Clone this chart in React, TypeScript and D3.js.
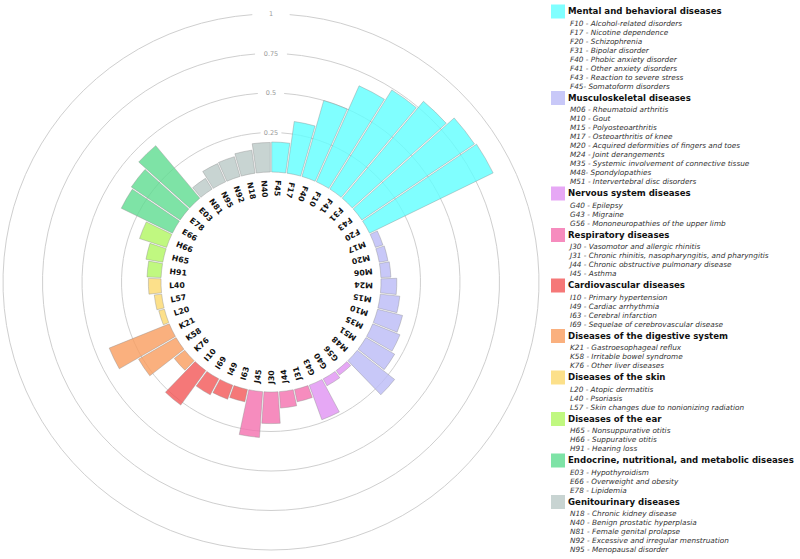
import * as React from 'react';
import * as d3 from 'd3';

// chart geometry
const WIDTH = 800;
const HEIGHT = 559;
const CX = 271;
const CY = 282;
const INNER_RADIUS = 110;
const OUTER_RADIUS = 268;

// bars, in drawing order (clockwise from the top)
const categories = [
    'F45', 'F17', 'F40', 'F10', 'F41', 'F31', 'F43', 'F20',
    'M17', 'M20', 'M06', 'M24', 'M15', 'M10', 'M35', 'M51', 'M48',
    'G56', 'G40', 'G43',
    'J31', 'J44', 'J30', 'J45',
    'I63', 'I49', 'I69', 'I10',
    'K76', 'K58', 'K21',
    'L20', 'L57', 'L40',
    'H91', 'H65', 'H66',
    'E66', 'E78', 'E03',
    'N81', 'N95', 'N92', 'N18', 'N40',
];

const values = [
    0.19, 0.33, 0.50, 0.665, 0.74, 0.80, 0.86, 0.87,
    0.05, 0.056, 0.063, 0.10, 0.124, 0.163, 0.186, 0.21, 0.30,
    0.035, 0.05, 0.233,
    0.08, 0.104, 0.20, 0.29,
    0.08, 0.095, 0.115, 0.27,
    0.084, 0.274, 0.41,
    0.037, 0.047, 0.08,
    0.089, 0.108, 0.18,
    0.36, 0.373, 0.434,
    0.08, 0.126, 0.13, 0.147, 0.187,
];

const categoryGroup = [
    0, 0, 0, 0, 0, 0, 0, 0,
    1, 1, 1, 1, 1, 1, 1, 1, 1,
    2, 2, 2,
    3, 3, 3, 3,
    4, 4, 4, 4,
    5, 5, 5,
    6, 6, 6,
    7, 7, 7,
    8, 8, 8,
    9, 9, 9, 9, 9,
];

const groupNames = [
    'Mental and behavioral diseases',
    'Musculoskeletal diseases',
    'Nervous system diseases',
    'Respiratory diseases',
    'Cardiovascular diseases',
    'Diseases of the digestive system',
    'Diseases of the skin',
    'Diseases of the ear',
    'Endocrine, nutritional, and metabolic diseases',
    'Genitourinary diseases',
];

const groupColors = [
    '#60ffff', '#babaf6', '#e092f3', '#f46fae', '#f35656',
    '#f99c5e', '#fbd86d', '#b0f660', '#5edc90', '#bac9c7',
];

const legendItems = [
    ['F10 - Alcohol-related disorders', 'F17 - Nicotine dependence', 'F20 - Schizophrenia',
        'F31 - Bipolar disorder', 'F40 - Phobic anxiety disorder', 'F41 - Other anxiety disorders',
        'F43 - Reaction to severe stress', 'F45- Somatoform disorders'],
    ['M06 - Rheumatoid arthritis', 'M10 - Gout', 'M15 - Polyosteoarthritis',
        'M17 - Osteoarthritis of knee', 'M20 - Acquired deformities of fingers and toes',
        'M24 - Joint derangements', 'M35 - Systemic involvement of connective tissue',
        'M48- Spondylopathies', 'M51 - Intervertebral disc disorders'],
    ['G40 - Epilepsy', 'G43 - Migraine', 'G56 - Mononeuropathies of the upper limb'],
    ['J30 - Vasomotor and allergic rhinitis', 'J31 - Chronic rhinitis, nasopharyngitis, and pharyngitis',
        'J44 - Chronic obstructive pulmonary disease', 'I45 - Asthma'],
    ['I10 - Primary hypertension', 'I49 - Cardiac arrhythmia', 'I63 - Cerebral infarction',
        'I69 - Sequelae of cerebrovascular disease'],
    ['K21 - Gastroesophageal reflux', 'K58 - Irritable bowel syndrome', 'K76 - Other liver diseases'],
    ['L20 - Atopic dermatitis', 'L40 - Psoriasis', 'L57 - Skin changes due to nonionizing radiation'],
    ['H65 - Nonsuppurative otitis', 'H66 - Suppurative otitis', 'H91 - Hearing loss'],
    ['E03 - Hypothyroidism', 'E66 - Overweight and obesity', 'E78 - Lipidemia'],
    ['N18 - Chronic kidney disease', 'N40 - Benign prostatic hyperplasia', 'N81 - Female genital prolapse',
        'N92 - Excessive and irregular menstruation', 'N95 - Menopausal disorder'],
];

const gridTicks = [0.25, 0.5, 0.75, 1];

const FONT = '"DejaVu Sans", Verdana, sans-serif';

export default function App() {
    const ref = React.useRef<SVGSVGElement>(null);

    React.useEffect(() => {
        document.body.style.margin = '0';
        const svg = d3.select(ref.current);
        svg.selectAll('*').remove();

        const data = categories.map((code, i) => ({ code, value: values[i], group: categoryGroup[i] }));

        const x = d3.scaleBand<string>()
            .domain(categories)
            .range([0, 2 * Math.PI])
            .align(0);

        const y = d3.scaleLinear()
            .domain([0, 1])
            .range([INNER_RADIUS, OUTER_RADIUS]);

        const canvas = svg.append('g')
            .attr('transform', 'translate(' + [CX, CY] + ')');

        // grid rings, with a gap at the top for the tick label
        const gap = (4 * Math.PI) / 180;
        const grid = canvas.append('g').attr('class', 'grid');
        gridTicks.forEach((t) => {
            const r = y(t);
            const p = d3.path();
            p.arc(0, 0, r, -Math.PI / 2 + gap, 1.5 * Math.PI - gap);
            grid.append('path')
                .attr('d', p.toString())
                .attr('fill', 'none')
                .attr('stroke', '#cfcfcf')
                .attr('stroke-width', 1);
            grid.append('text')
                .attr('x', 0)
                .attr('y', -r)
                .attr('dy', '0.35em')
                .attr('text-anchor', 'middle')
                .attr('font-family', FONT)
                .attr('font-size', 6.5)
                .attr('fill', '#9a9a9a')
                .text(String(t));
        });

        const arc = d3.arc<any>()
            .innerRadius(INNER_RADIUS)
            .outerRadius((d) => y(d.value))
            .startAngle((d) => x(d.code) as number)
            .endAngle((d) => (x(d.code) as number) + x.bandwidth())
            .padAngle(0.012)
            .padRadius(INNER_RADIUS);

        canvas.append('g')
            .selectAll('path')
            .data(data)
            .join('path')
            .attr('d', arc)
            .attr('fill', (d) => groupColors[d.group])
            .attr('fill-opacity', 0.8)
            .attr('stroke', '#8c8c8c')
            .attr('stroke-width', 0.5)
            .attr('stroke-opacity', 0.8);

        // category labels, reading inwards from just inside the bars
        canvas.append('g')
            .selectAll('text')
            .data(data)
            .join('text')
            .attr('transform', (d) => {
                const a = (((x(d.code) as number) + x.bandwidth() / 2) * 180) / Math.PI;
                return 'rotate(' + (a - 90) + ') translate(' + (INNER_RADIUS - 8) + ',0) rotate(180)';
            })
            .attr('dy', '0.35em')
            .attr('text-anchor', 'start')
            .attr('font-family', FONT)
            .attr('font-weight', 'bold')
            .attr('font-size', 7.8)
            .attr('fill', '#111')
            .text((d) => d.code);

        // legend
        const legend = svg.append('g').attr('class', 'legend');
        let baseline = 14;
        groupNames.forEach((name, gi) => {
            legend.append('rect')
                .attr('x', 551)
                .attr('y', baseline - 9.5)
                .attr('width', 14)
                .attr('height', 14)
                .attr('fill', groupColors[gi])
                .attr('fill-opacity', 0.8);
            legend.append('text')
                .attr('x', 568)
                .attr('y', baseline)
                .attr('font-family', FONT)
                .attr('font-weight', 'bold')
                .attr('font-size', 8.6)
                .attr('fill', '#111')
                .text(name);
            legendItems[gi].forEach((item, k) => {
                legend.append('text')
                    .attr('x', 570)
                    .attr('y', baseline + 11.7 + k * 9)
                    .attr('font-family', FONT)
                    .attr('font-style', 'italic')
                    .attr('font-size', 7.3)
                    .attr('fill', '#333')
                    .text(item);
            });
            baseline += 14.5 + legendItems[gi].length * 9;
        });
    }, []);

    return <svg ref={ref} width={WIDTH} height={HEIGHT} style={{ display: 'block' }} />;
}
